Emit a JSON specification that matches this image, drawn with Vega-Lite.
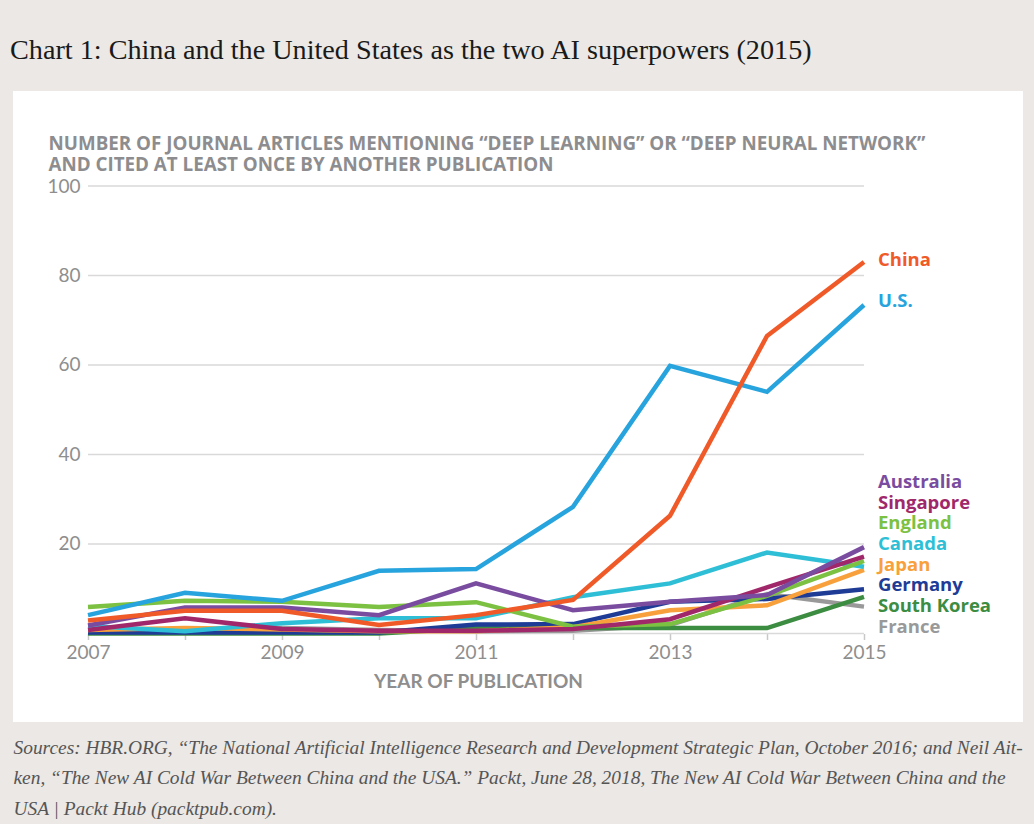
{
  "$schema": "https://vega.github.io/schema/vega-lite/v6.json",
  "width": 1010,
  "height": 631,
  "autosize": {"type": "none"},
  "padding": {"left": 13, "top": 91, "right": 11, "bottom": 102},
  "background": "#ebe8e5",
  "view": {"fill": "#ffffff", "stroke": null},
  "title": {
    "text": "Chart 1: China and the United States as the two AI superpowers (2015)",
    "anchor": "start",
    "frame": "group",
    "orient": "top",
    "baseline": "alphabetic",
    "offset": 4,
    "dx": -3,
    "font": "Liberation Serif",
    "fontSize": 28.2,
    "fontWeight": "normal",
    "color": "#1a1a1a"
  },
  "datasets": {
    "series": [
      {"year": 2007, "country": "France", "value": 0.4},
      {"year": 2008, "country": "France", "value": 0.7},
      {"year": 2009, "country": "France", "value": 1.2},
      {"year": 2010, "country": "France", "value": 0.8},
      {"year": 2011, "country": "France", "value": 0.5},
      {"year": 2012, "country": "France", "value": 0.6},
      {"year": 2013, "country": "France", "value": 1.9},
      {"year": 2014, "country": "France", "value": 8.8},
      {"year": 2015, "country": "France", "value": 6.0},
      {"year": 2007, "country": "South Korea", "value": 0},
      {"year": 2008, "country": "South Korea", "value": 0},
      {"year": 2009, "country": "South Korea", "value": 0},
      {"year": 2010, "country": "South Korea", "value": 0},
      {"year": 2011, "country": "South Korea", "value": 1.2},
      {"year": 2012, "country": "South Korea", "value": 1.2},
      {"year": 2013, "country": "South Korea", "value": 1.2},
      {"year": 2014, "country": "South Korea", "value": 1.2},
      {"year": 2015, "country": "South Korea", "value": 8.2},
      {"year": 2007, "country": "Germany", "value": 0.2},
      {"year": 2008, "country": "Germany", "value": 0.2},
      {"year": 2009, "country": "Germany", "value": 0.2},
      {"year": 2010, "country": "Germany", "value": 0.2},
      {"year": 2011, "country": "Germany", "value": 2.0},
      {"year": 2012, "country": "Germany", "value": 2.1},
      {"year": 2013, "country": "Germany", "value": 7.1},
      {"year": 2014, "country": "Germany", "value": 7.7},
      {"year": 2015, "country": "Germany", "value": 9.9},
      {"year": 2007, "country": "Japan", "value": 0.8},
      {"year": 2008, "country": "Japan", "value": 1.2},
      {"year": 2009, "country": "Japan", "value": 0.9},
      {"year": 2010, "country": "Japan", "value": 0.5},
      {"year": 2011, "country": "Japan", "value": 0.5},
      {"year": 2012, "country": "Japan", "value": 1.4},
      {"year": 2013, "country": "Japan", "value": 5.2},
      {"year": 2014, "country": "Japan", "value": 6.3},
      {"year": 2015, "country": "Japan", "value": 14.2},
      {"year": 2007, "country": "Canada", "value": 1.7},
      {"year": 2008, "country": "Canada", "value": 0.5},
      {"year": 2009, "country": "Canada", "value": 2.3},
      {"year": 2010, "country": "Canada", "value": 3.4},
      {"year": 2011, "country": "Canada", "value": 3.4},
      {"year": 2012, "country": "Canada", "value": 8.1},
      {"year": 2013, "country": "Canada", "value": 11.2},
      {"year": 2014, "country": "Canada", "value": 18.1},
      {"year": 2015, "country": "Canada", "value": 14.9},
      {"year": 2007, "country": "England", "value": 5.9},
      {"year": 2008, "country": "England", "value": 7.3},
      {"year": 2009, "country": "England", "value": 7.1},
      {"year": 2010, "country": "England", "value": 5.9},
      {"year": 2011, "country": "England", "value": 7.0},
      {"year": 2012, "country": "England", "value": 1.5},
      {"year": 2013, "country": "England", "value": 2.1},
      {"year": 2014, "country": "England", "value": 8.4},
      {"year": 2015, "country": "England", "value": 16.2},
      {"year": 2007, "country": "Singapore", "value": 0.8},
      {"year": 2008, "country": "Singapore", "value": 3.4},
      {"year": 2009, "country": "Singapore", "value": 1.0},
      {"year": 2010, "country": "Singapore", "value": 0.6},
      {"year": 2011, "country": "Singapore", "value": 0.6},
      {"year": 2012, "country": "Singapore", "value": 1.0},
      {"year": 2013, "country": "Singapore", "value": 3.2},
      {"year": 2014, "country": "Singapore", "value": 10.3},
      {"year": 2015, "country": "Singapore", "value": 17.2},
      {"year": 2007, "country": "Australia", "value": 1.8},
      {"year": 2008, "country": "Australia", "value": 5.8},
      {"year": 2009, "country": "Australia", "value": 5.8},
      {"year": 2010, "country": "Australia", "value": 4.1},
      {"year": 2011, "country": "Australia", "value": 11.2},
      {"year": 2012, "country": "Australia", "value": 5.2},
      {"year": 2013, "country": "Australia", "value": 7.1},
      {"year": 2014, "country": "Australia", "value": 8.6},
      {"year": 2015, "country": "Australia", "value": 19.3},
      {"year": 2007, "country": "U.S.", "value": 4.1},
      {"year": 2008, "country": "U.S.", "value": 9.1},
      {"year": 2009, "country": "U.S.", "value": 7.3},
      {"year": 2010, "country": "U.S.", "value": 14.0},
      {"year": 2011, "country": "U.S.", "value": 14.4},
      {"year": 2012, "country": "U.S.", "value": 28.3},
      {"year": 2013, "country": "U.S.", "value": 59.8},
      {"year": 2014, "country": "U.S.", "value": 54.0},
      {"year": 2015, "country": "U.S.", "value": 73.4},
      {"year": 2007, "country": "China", "value": 2.9},
      {"year": 2008, "country": "China", "value": 5.1},
      {"year": 2009, "country": "China", "value": 5.1},
      {"year": 2010, "country": "China", "value": 1.9},
      {"year": 2011, "country": "China", "value": 4.1},
      {"year": 2012, "country": "China", "value": 7.5},
      {"year": 2013, "country": "China", "value": 26.3},
      {"year": 2014, "country": "China", "value": 66.5},
      {"year": 2015, "country": "China", "value": 83.0}
    ],
    "labels": [
      {"country": "China", "labelValue": 82.1},
      {"country": "U.S.", "labelValue": 73.0},
      {"country": "Australia", "labelValue": 32.5},
      {"country": "Singapore", "labelValue": 27.9},
      {"country": "England", "labelValue": 23.3},
      {"country": "Canada", "labelValue": 18.7},
      {"country": "Japan", "labelValue": 14.0},
      {"country": "Germany", "labelValue": 9.4},
      {"country": "South Korea", "labelValue": 4.8},
      {"country": "France", "labelValue": 0.1}
    ],
    "grid": [
      {"level": 0}, {"level": 20}, {"level": 40}, {"level": 60}, {"level": 80}, {"level": 100}
    ]
  },
  "resolve": {"axis": {"x": "independent", "y": "independent"}},
  "layer": [
    {
      "data": {"name": "grid"},
      "mark": {"type": "rule", "color": "#d9d9d9", "strokeWidth": 1.5},
      "encoding": {
        "x": {"datum": 2007, "type": "quantitative", "axis": null,
              "scale": {"domain": [2006.2268, 2016.6392], "nice": false, "zero": false}},
        "x2": {"datum": 2015},
        "y": {
          "field": "level", "type": "quantitative",
          "scale": {"domain": [-19.78, 121.23], "nice": false, "zero": false},
          "axis": {
            "orient": "left",
            "offset": -75,
            "values": [20, 40, 60, 80, 100],
            "domain": false,
            "ticks": false,
            "grid": false,
            "labelFont": "Lato",
            "labelFontSize": 19,
            "labelColor": "#8e8e8e",
            "labelPadding": 8,
            "title": [
              "NUMBER OF JOURNAL ARTICLES MENTIONING “DEEP LEARNING” OR “DEEP NEURAL NETWORK”",
              "AND CITED AT LEAST ONCE BY ANOTHER PUBLICATION"
            ],
            "titleFont": "Open Sans",
            "titleFontSize": 18.8,
            "titleFontWeight": "bold",
            "titleColor": "#8d8d8f",
            "titleAngle": 0,
            "titleAlign": "left",
            "titleBaseline": "alphabetic",
            "titleX": -40,
            "titleY": 58.5,
            "titleLineHeight": 20.5
          }
        }
      }
    },
    {
      "data": {"name": "series"},
      "mark": {"type": "line", "strokeWidth": 4.5},
      "encoding": {
        "x": {
          "field": "year", "type": "quantitative",
          "axis": {
            "orient": "bottom",
            "offset": -88.5,
            "values": [2007, 2008, 2009, 2010, 2011, 2012, 2013, 2014, 2015],
            "format": "d",
            "labelExpr": "datum.value % 2 === 1 ? datum.label : ''",
            "labelOverlap": false,
            "labelFont": "Lato",
            "labelFontSize": 19,
            "labelColor": "#8e8e8e",
            "labelPadding": 4,
            "tickColor": "#c8c8c8",
            "tickSize": 6,
            "tickWidth": 1.5,
            "domain": false,
            "grid": false,
            "title": "YEAR OF PUBLICATION",
            "titleFont": "Lato",
            "titleFontSize": 19,
            "titleFontWeight": "bold",
            "titleColor": "#8e8e8e",
            "titleX": 465,
            "titleY": 54,
            "titleBaseline": "alphabetic",
            "titleAlign": "center"
          }
        },
        "y": {"field": "value", "type": "quantitative", "axis": null},
        "color": {
          "field": "country", "type": "nominal", "legend": null,
          "scale": {
            "domain": ["China", "U.S.", "Australia", "Singapore", "England", "Canada", "Japan", "Germany", "South Korea", "France"],
            "range": ["#f05a28", "#27a4dd", "#7a4ca0", "#a0286a", "#7cc142", "#2ebfd6", "#f8a03c", "#1e3c96", "#3c8c42", "#999999"]
          }
        },
        "detail": {"field": "country"}
      }
    },
    {
      "data": {"name": "labels"},
      "mark": {"type": "text", "align": "left", "baseline": "alphabetic", "dx": 14, "font": "Open Sans", "fontSize": 18.5, "fontWeight": "bold"},
      "encoding": {
        "x": {
          "datum": 2015, "type": "quantitative",
          "axis": {
            "orient": "bottom",
            "offset": 0,
            "labels": false,
            "ticks": false,
            "domain": false,
            "grid": false,
            "title": [
              "Sources: HBR.ORG, “The National Artificial Intelligence Research and Development Strategic Plan, October 2016; and Neil Ait-",
              "ken, “The New AI Cold War Between China and the USA.” Packt, June 28, 2018, The New AI Cold War Between China and the",
              "USA | Packt Hub (packtpub.com)."
            ],
            "titleFont": "Liberation Serif",
            "titleFontSize": 19.4,
            "titleFontStyle": "italic",
            "titleFontWeight": "normal",
            "titleColor": "#555555",
            "titleAlign": "left",
            "titleBaseline": "alphabetic",
            "titleX": 0,
            "titleY": 31,
            "titleLineHeight": 30.5
          }
        },
        "y": {"field": "labelValue", "type": "quantitative", "axis": null},
        "text": {"field": "country"},
        "color": {"field": "country", "type": "nominal", "legend": null}
      }
    }
  ]
}
